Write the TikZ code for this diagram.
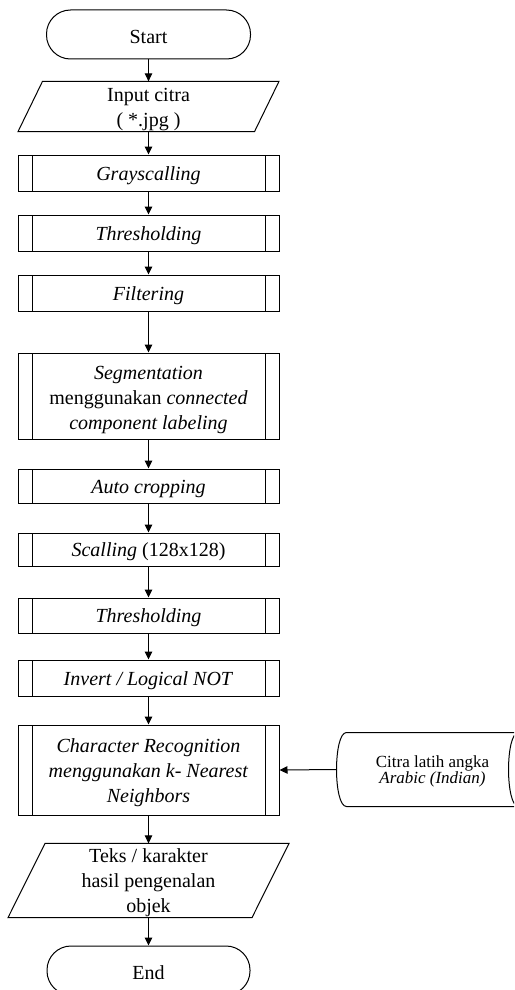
\documentclass[tikz,border=0pt]{standalone}
\usepackage{fontspec}
\setmainfont{Liberation Serif}
\usetikzlibrary{arrows.meta}
\newcommand\tup[1]{\rule{0pt}{#1pt}}
\tikzset{
  base/.style={inner sep=0pt, align=center, font=\fontsize{20}{25}\selectfont},
  term/.style={base, draw, rounded corners=24pt, minimum width=204pt, minimum height=49pt},
  para/.style={base, draw=none, rectangle},
  proc/.style={base, draw, rectangle, minimum width=261pt,
    path picture={
      \draw ([xshift=14pt]path picture bounding box.north west) -- ([xshift=14pt]path picture bounding box.south west);
      \draw ([xshift=-14pt]path picture bounding box.north east) -- ([xshift=-14pt]path picture bounding box.south east);
    }},
  store/.style={inner sep=0pt, align=center, draw=none, rectangle, font=\fontsize{17}{15}\selectfont},
  arr/.style={-{Triangle[length=8pt,width=7.5pt]}}
}
\begin{document}
\begin{tikzpicture}[x=1pt,y=-1pt,line width=1pt]
\useasboundingbox (0,0) rectangle (514,990);
\clip (0,0) rectangle (514,990);
\fill[white] (0,0) rectangle (514,990);

\node[term] (start) at (148.5,34.5) {\tup{19}Start};

\node[para, minimum width=260pt, minimum height=49pt] (in) at (148.5,106.5) {\tup{20}Input citra\\( *.jpg )};
\draw (in.south west) -- ([xshift=24.5pt]in.north west) -- (in.north east) -- ([xshift=-24.5pt]in.south east) -- cycle;

\node[proc, minimum height=36pt] (gray) at (148.5,173) {\tup{19}\textit{Grayscalling}};
\node[proc, minimum height=36pt] (thr1) at (148.5,233) {\tup{19}\textit{Thresholding}};
\node[proc, minimum height=36pt] (filt) at (148.5,293) {\tup{19}\textit{Filtering}};
\node[proc, minimum height=86pt] (seg) at (148.5,396) {\tup{21}\textit{Segmentation}\\menggunakan \textit{connected}\\\textit{component labeling}};
\node[proc, minimum height=34pt] (crop) at (148.5,486) {\tup{19}\textit{Auto cropping}};
\node[proc, minimum height=33pt] (scal) at (148.5,549.5) {\tup{19}\textit{Scalling} (128x128)};
\node[proc, minimum height=35pt] (thr2) at (148.5,615.5) {\tup{19}\textit{Thresholding}};
\node[proc, minimum height=36pt] (inv) at (148.5,678) {\tup{19}\textit{Invert / Logical NOT}};
\node[proc, minimum height=90pt] (cr) at (148.5,770) {\tup{19}\textit{Character Recognition}\\\textit{menggunakan k- Nearest}\\\textit{Neighbors}};

\node[para, minimum width=280pt, minimum height=73pt] (out) at (148.5,880.5) {\tup{19}Teks / karakter\\hasil pengenalan\\objek};
\draw (out.south west) -- ([xshift=37pt]out.north west) -- (out.north east) -- ([xshift=-37pt]out.south east) -- cycle;

\node[term, minimum width=203pt] (end) at (148.5,970.5) {\tup{19}End};

\node[store, minimum width=171pt, minimum height=73pt] (db) at (432.5,769.5) {\tup{16}Citra latih angka\\\textit{Arabic (Indian)}};
\draw (db.north east) -- (db.north west)
  .. controls ([xshift=-13.3pt]db.north west) and ([xshift=-13.3pt]db.south west) .. (db.south west)
  -- (db.south east);
\draw (db.north east) .. controls ([xshift=-13.3pt]db.north east) and ([xshift=-13.3pt]db.south east) .. (db.south east);
\draw (db.north east) .. controls ([xshift=13.3pt]db.north east) and ([xshift=13.3pt]db.south east) .. (db.south east);
\coordinate (dbl) at ([xshift=-10pt]db.west);

\draw[arr] (start.south) -- (in.north);
\draw[arr] (in.south) -- (gray.north);
\draw[arr] (gray.south) -- (thr1.north);
\draw[arr] (thr1.south) -- (filt.north);
\draw[arr] (filt.south) -- (seg.north);
\draw[arr] (seg.south) -- (crop.north);
\draw[arr] (crop.south) -- (scal.north);
\draw[arr] (scal.south) -- (thr2.north);
\draw[arr] (thr2.south) -- (inv.north);
\draw[arr] (inv.south) -- (cr.north);
\draw[arr] (cr.south) -- (out.north);
\draw[arr] (out.south) -- (end.north);
\draw[arr] (dbl) -- (cr.east);
\end{tikzpicture}
\end{document}
